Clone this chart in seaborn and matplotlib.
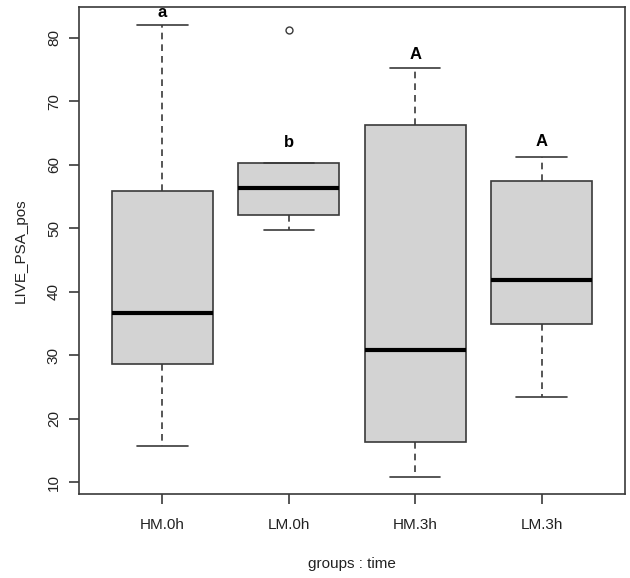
import seaborn as sns
import matplotlib.pyplot as plt
import pandas as pd

# Data (five numbers per group, plus the outlier)
groups = ['HM.0h', 'LM.0h', 'HM.3h', 'LM.3h']
hm_0h = [15.7, 28.6, 36.6, 55.8, 82.0]
lm_0h = [49.7, 52.1, 56.3, 60.3, 81.2]
hm_3h = [10.9, 16.3, 30.9, 66.2, 75.2]
lm_3h = [23.5, 34.9, 41.8, 57.5, 61.3]
letters = ['a', 'b', 'A', 'A']
letter_y = [83.9, 63.5, 77.4, 63.6]

df = pd.DataFrame({
    'time': sum([[g] * 5 for g in groups], []),
    'LIVE_PSA_pos': hm_0h + lm_0h + hm_3h + lm_3h,
})

sns.set_style('white')
plt.rcParams['font.family'] = ['Liberation Sans', 'DejaVu Sans']

fig = plt.figure(figsize=(6.3, 5.78), dpi=100)
ax = fig.add_axes([79 / 630, 1 - 494 / 578, (625 - 79) / 630, (494 - 7) / 578])

edge = '#3a3a3a'
sns.boxplot(
    data=df, x='time', y='LIVE_PSA_pos', order=groups, ax=ax,
    width=0.8, color='#d3d3d3', saturation=1, linewidth=1.2,
    boxprops=dict(facecolor='#d3d3d3', edgecolor=edge),
    whiskerprops=dict(color=edge, linestyle=(0, (4, 3))),
    capprops=dict(color=edge),
    medianprops=dict(color='black', linewidth=3),
    flierprops=dict(marker='o', markersize=5, markerfacecolor='white',
                    markeredgecolor=edge, markeredgewidth=1),
)

for i, (lab, y) in enumerate(zip(letters, letter_y)):
    ax.text(i, y, lab, ha='center', va='center', fontsize=12,
            fontweight='bold', color='black')

ax.set_xlim(-0.66, 3.66)
ax.set_ylim(8.16, 84.84)
ax.set_yticks(range(10, 81, 10))
ax.set_yticklabels([str(v) for v in range(10, 81, 10)], rotation=90,
                   va='center')

for s in ax.spines.values():
    s.set_color(edge)
    s.set_linewidth(1.2)
ax.tick_params(axis='both', direction='out', length=7, width=1.2,
               color=edge, labelcolor='#222222', labelsize=11, pad=6,
               left=True, bottom=True)
ax.tick_params(axis='x', pad=10)
ax.set_xlabel('groups : time', fontsize=11, color='#222222', labelpad=18)
ax.set_ylabel('LIVE_PSA_pos', fontsize=11, color='#222222', labelpad=14)

fig.savefig('out.png', dpi=100)
